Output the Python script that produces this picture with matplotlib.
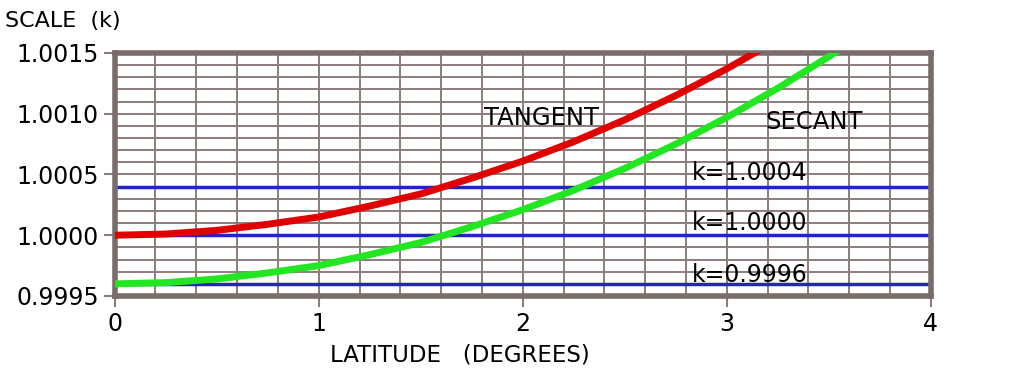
import matplotlib
matplotlib.use("Agg")
import matplotlib.pyplot as plt
import numpy as np

# latitude (degrees) and scale factor
lat_tan = [0.0, 0.25, 0.5, 0.75, 1.0, 1.25, 1.5, 1.75, 2.0, 2.25, 2.5, 2.75, 3.0, 3.25]
k_tan = [1.00000, 1.00001, 1.00004, 1.00009, 1.00015, 1.00024, 1.00034,
         1.00047, 1.00061, 1.00077, 1.00095, 1.00115, 1.00137, 1.00161]

lat_sec = [0.0, 0.25, 0.5, 0.75, 1.0, 1.25, 1.5, 1.75, 2.0, 2.25, 2.5, 2.75,
           3.0, 3.25, 3.5, 3.75]
k_sec = [0.99960, 0.99961, 0.99964, 0.99969, 0.99975, 0.99984, 0.99994, 1.00007,
         1.00021, 1.00037, 1.00055, 1.00075, 1.00097, 1.00121, 1.00147, 1.00175]

ref_lines = [1.0004, 1.0000, 0.9996]
ref_labels = ['k=1.0004', 'k=1.0000', 'k=0.9996']
ref_label_y = [1.000455, 1.000043, 0.999615]

yticks = [0.9995, 1.0000, 1.0005, 1.0010, 1.0015]
ytick_labels = ['0.9995', '1.0000', '1.0005', '1.0010', '1.0015']

frame = '#7b6c6c'
grid = '#8c7c7c'

fig = plt.figure(figsize=(10.24, 3.74), dpi=100)
ax = fig.add_axes([0.112, 0.2086, 0.797, 0.6497])

# grid: 0.2 deg by 0.0001
for x in np.arange(0.2, 4.0, 0.2):
    ax.axvline(x, color=grid, lw=1.4, zorder=1)
for y in np.arange(0.9996, 1.0015, 0.0001):
    ax.axhline(y, color=grid, lw=1.4, zorder=1)

for y in ref_lines:
    ax.axhline(y, color='#2424c0', lw=2.5, zorder=2)

ax.plot(lat_sec, k_sec, color='#22e622', lw=5, zorder=3, solid_capstyle='round')
ax.plot(lat_tan, k_tan, color='#e00000', lw=5, zorder=3, solid_capstyle='round')

for lab, y in zip(ref_labels, ref_label_y):
    ax.text(2.83, y, lab, fontsize=17, va='baseline', ha='left', zorder=4)
ax.text(1.81, 1.000907, 'TANGENT', fontsize=17.5, va='baseline', zorder=4)
ax.text(3.19, 1.000874, 'SECANT', fontsize=17.5, va='baseline', zorder=4)

ax.set_xlim(0, 4)
ax.set_ylim(0.9995, 1.0015)
ax.set_xticks([0, 1, 2, 3, 4])
ax.set_yticks(yticks)
ax.set_yticklabels(ytick_labels)
ax.tick_params(axis='both', labelsize=17, color=grid, length=8, width=1.5, direction='out')
for s in ax.spines.values():
    s.set_color(frame)
    s.set_linewidth(4)

fig.text(0.005, 0.945, 'SCALE  (k)', fontsize=16, ha='left', va='center')
fig.text(0.322, 0.05, 'LATITUDE   (DEGREES)', fontsize=16.5, ha='left', va='center')

fig.savefig('out.png', dpi=100)
